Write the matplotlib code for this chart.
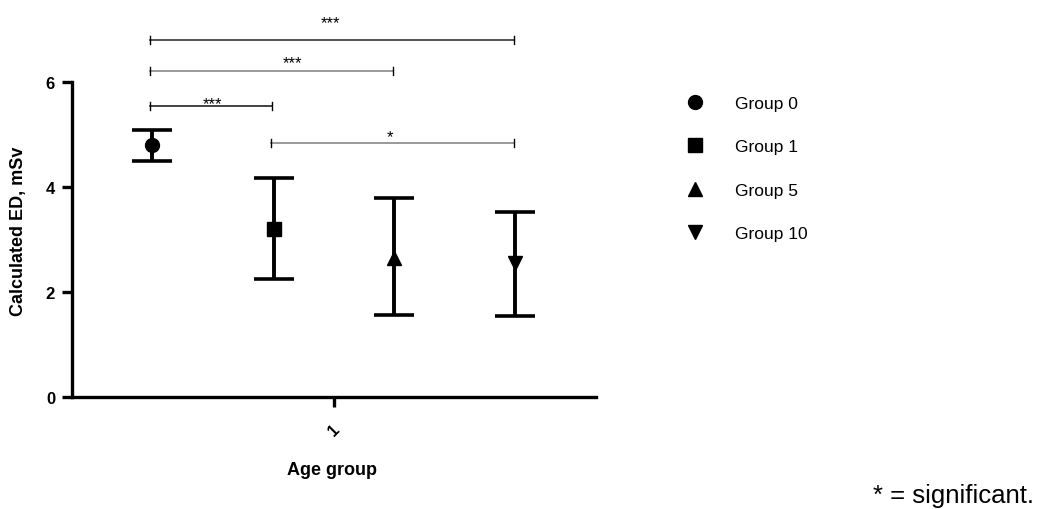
import matplotlib.pyplot as plt
from matplotlib.lines import Line2D

plt.rcParams['font.family'] = ['Liberation Sans', 'DejaVu Sans']

# data
groups = ['Group 0', 'Group 1', 'Group 5', 'Group 10']
means = [4.81, 3.21, 2.66, 2.56]
upper = [5.10, 4.18, 3.80, 3.53]
lower = [4.50, 2.25, 1.57, 1.55]
markers = ['o', 's', '^', 'v']
offsets = [-0.346, -0.115, 0.115, 0.346]

# significance brackets: (group a, group b, line height, label, label x, label y)
br_a = [0, 0, 0, 1]
br_b = [1, 2, 3, 3]
br_y = [5.55, 6.22, 6.81, 4.85]
br_lab = ['***', '***', '***', '*']
br_lab_x = [0.768, 0.922, 0.993, 1.107]
br_lab_y = [5.60, 6.38, 7.13, 4.97]
br_col = ['#222222', '#888888', '#333333', '#888888']

fig = plt.figure(figsize=(10.48, 5.10), dpi=100)
ax = fig.add_axes([0.0684, 0.219, 0.5003, 0.6176])

xs = [1 + o for o in offsets]
for i in range(len(groups)):
    ax.errorbar(xs[i], means[i],
                yerr=[[means[i] - lower[i]], [upper[i] - means[i]]],
                fmt='none', ecolor='black', elinewidth=2.8,
                capsize=14.6, capthick=2.6)
    ax.plot(xs[i], means[i], marker=markers[i], color='black',
            markersize=10, linestyle='none')

# brackets
for a, b, y, lab, lx, ly, c in zip(br_a, br_b, br_y, br_lab, br_lab_x, br_lab_y, br_col):
    x0, x1 = xs[a] - 0.004, xs[b] - 0.002
    ax.plot([x0, x1], [y, y], color=c, lw=1.2, clip_on=False)
    ax.plot([x0, x0], [y - 0.08, y + 0.08], color='black', lw=1.0, clip_on=False)
    ax.plot([x1, x1], [y - 0.08, y + 0.08], color='black', lw=1.0, clip_on=False)
    ax.text(lx, ly, lab, ha='center', va='center', fontsize=12, color='black')

ax.set_xlim(0.5, 1.5)
ax.set_ylim(0, 6)
ax.set_yticks([0, 2, 4, 6])
ax.set_xticks([1])
ax.set_xticklabels(['1'], rotation=45, fontsize=12, fontweight='bold')
for lab in ax.get_yticklabels():
    lab.set_fontweight('bold')
    lab.set_fontsize(12)

for s in ['top', 'right']:
    ax.spines[s].set_visible(False)
for s in ['left', 'bottom']:
    ax.spines[s].set_linewidth(2.4)
ax.tick_params(axis='both', width=2.4, length=7, direction='out')
ax.tick_params(axis='x', pad=10)
ax.tick_params(axis='y', pad=5)

ax.set_ylabel('Calculated ED, mSv', fontsize=13, fontweight='bold')
ax.yaxis.set_label_coords(-0.085, 0.53)
ax.set_xlabel('Age group', fontsize=13, fontweight='bold')
ax.xaxis.set_label_coords(0.497, -0.203)

handles = [Line2D([], [], marker=m, color='black', linestyle='none', markersize=10)
           for m in markers]
fig.legend(handles, groups, loc='upper left', bbox_to_anchor=(0.6317, 0.84),
           frameon=False, fontsize=12.5, labelspacing=1.61, handletextpad=1.3)

fig.text(0.987, 0.0137, '* = significant.', ha='right', va='baseline', fontsize=18.5)

fig.savefig('out.png', dpi=100)
